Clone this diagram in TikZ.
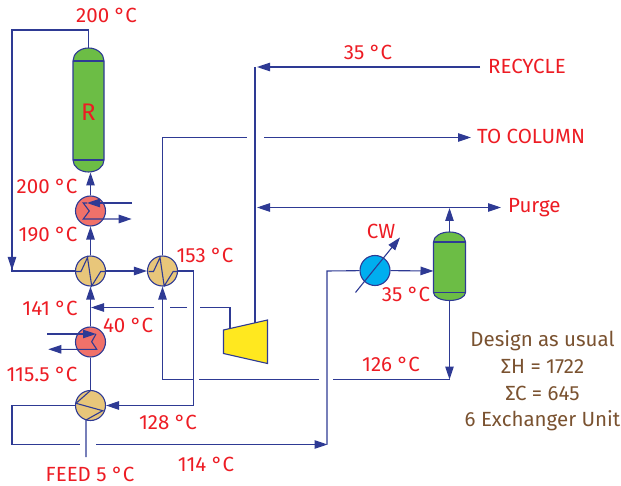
\documentclass[tikz,border=0pt]{standalone}
\usepackage{fontspec}
\setmainfont{Fira Sans}
\usepackage{xcolor}
\usetikzlibrary{arrows.meta,positioning,calc}

\definecolor{linecol}{HTML}{2E3A94}
\definecolor{tempcol}{HTML}{ED1C24}
\definecolor{notecol}{HTML}{7A5230}
\definecolor{vesselfill}{HTML}{6CBD45}
\definecolor{hotfill}{HTML}{F0716A}
\definecolor{xfill}{HTML}{E8C67A}
\definecolor{cwfill}{HTML}{00AEEF}
\definecolor{compfill}{HTML}{FFE81F}

\begin{document}
\begin{tikzpicture}[
  x=1pt, y=-1pt,
  flow/.style={draw=linecol, line width=1.1pt},
  arr/.style={flow, -{Triangle[length=13pt, width=8.5pt, fill=linecol]}},
  exch/.style={circle, draw=linecol, line width=1.1pt, minimum size=30pt, inner sep=0pt, fill=#1},
  vessel/.style={draw=linecol, line width=1.1pt, fill=vesselfill},
  lbl/.style={font=\fontsize{20.5}{22}\selectfont, text=tempcol, inner sep=0pt},
  note/.style={font=\fontsize{20.5}{26.7}\selectfont, text=notecol, align=center, inner sep=0pt}
]
\useasboundingbox (0,0) rectangle (621,486);

% exchangers
\node[exch=hotfill] (hot1) at (90.5,211) {};
\node[exch=xfill] (ex1) at (90.5,271) {};
\node[exch=xfill] (ex2) at (162.5,271) {};
\node[exch=hotfill] (hot2) at (90.5,342) {};
\node[exch=xfill] (ex3) at (90.5,405.5) {};
\node[exch=cwfill] (cw) at (375,270.5) {};

% vessels
\draw[vessel] (73,61) arc (180:0:15.5 and -13) -- (104,160) arc (0:-180:15.5 and -12) -- cycle;
\node[inner sep=0pt, minimum width=31pt, minimum height=124pt] (reactor) at (88.5,110) {};
\draw[flow] (73,61) -- (104,61) (73,160) -- (104,160);
\draw[vessel] (433.5,242) arc (180:0:16 and -10) -- (465.5,292.5) arc (0:-180:16 and -8) -- cycle;
\node[inner sep=0pt, minimum width=32pt, minimum height=68pt] (sep) at (449.5,266) {};
\draw[flow] (433.5,242) -- (465.5,242) (433.5,292.5) -- (465.5,292.5);

% compressor
\draw[flow, fill=compfill] (223.5,330) -- (267.5,320) -- (267.5,363.5) -- (223.5,353.5) -- cycle;
\coordinate (compin) at (255,323);
\coordinate (compout) at (230,328.5);

% free ends
\coordinate (recycle) at (480,67);
\coordinate (recyclein) at (255,67);
\coordinate (tocol) at (471,137.5);
\coordinate (purge) at (501,207.5);
\coordinate (feed) at (86,457);

% connectors
\draw[flow] (reactor.north) -- (88.5,30) -- (12,30) -- (12,271) -- (ex1);
\draw[arr] (12,240) -- (12,270);
\draw[arr] (ex1) -- (ex2);
\draw[arr] (ex1) -- (hot1);
\draw[arr] (hot1) -- (90.5,172.5);
\draw[arr] (recycle) -- (257,67);
\draw[flow] (recyclein) -- (compin);
\draw[arr] (449.5,207.5) -- (purge);
\draw[arr] (449.5,232) -- (449.5,208);
\draw[arr] (449.5,207.5) -- (257,207.5);
\draw[flow] (ex2) -- (162.5,137.5) -- (246.5,137.5);
\draw[arr] (264,137.5) -- (tocol);
\draw[arr] (sep.south) -- (449.5,379.5);
\draw[flow] (449.5,379.5) -- (333,379.5);
\draw[flow] (319,379.5) -- (199,379.5);
\draw[arr] (193,379.5) -- (162.5,379.5) -- (ex2);
\draw[flow] (ex2.east) -- (193.5,271) -- (193.5,405.5);
\draw[arr] (193.5,405.5) -- (ex3);
\draw[arr] (hot2) -- (ex1);
\draw[flow] (ex3) -- (hot2);
\draw[flow] (compout) -- (230,307.5) -- (200,307.5);
\draw[flow] (187,307.5) -- (170,307.5);
\draw[arr] (154,307.5) -- (91,307.5);
\draw[flow] (ex3.west) -- (12,405.5) -- (12,444.5) -- (80,444.5);
\draw[arr] (96,444.5) -- (327.5,444.5);
\draw[flow] (327,444.5) -- (327,271) -- (cw);
\draw[arr] (cw) -- (433.5,271);
\draw[arr] (355.5,292.5) -- (400,237.5);

% coils
\foreach \dx in {0,72.5}
  \draw[flow] (76+\dx,271.5) -- (81+\dx,271.5) -- (87.5+\dx,257.5) -- (91.7+\dx,286) -- (100.7+\dx,271.5) -- (105.5+\dx,271.5);
\draw[flow] (90.5,390.5) -- (76,403.3) -- (102.7,410.7) -- (86,420) -- (feed);
\coordinate (hot1in) at (132,203);
\coordinate (hot1out) at (131.7,219);
\coordinate (hot2in) at (47.3,334);
\coordinate (hot2out) at (48.3,349.3);
\draw[arr] (hot1in) -- (87,203);
\draw[arr] (87,203) -- (83.3,203) -- (89.3,211) -- (83.3,219) -- (hot1out);
\draw[arr] (hot2in) -- (96,334);
\draw[arr] (96,334) -- (91.7,341.7) -- (96.7,349.3) -- (hot2out);

\node[lbl, font=\fontsize{24}{26}\selectfont] (rlbl) at (88.5,112) {R};
\node[lbl] (t1) at (106.5,15) {200 °C};
\node[lbl] (t2) at (47,186) {200 °C};
\node[lbl] (t3) at (48,235) {190 °C};
\node[lbl] (t4) at (205,255) {153 °C};
\node[lbl] (t5) at (50,308) {141 °C};
\node[lbl] (t6) at (128,325) {40 °C};
\node[lbl] (t7) at (42,374) {115.5 °C};
\node[lbl] (t8) at (168,422) {128 °C};
\node[lbl] (t9) at (206,464) {114 °C};
\node[lbl] (t10) at (90,474) {FEED 5 °C};
\node[lbl] (t11) at (368,52) {35 °C};
\node[lbl, anchor=west] (t12) at (488,66) {RECYCLE};
\node[lbl, anchor=west] (t13) at (477,136) {TO COLUMN};
\node[lbl, anchor=west] (t14) at (508,208) {Purge};
\node[lbl] (t15) at (381,231) {CW};
\node[lbl] (t16) at (406,294) {35 °C};
\node[lbl] (t17) at (391,364) {126 °C};
\node[note] (design) at (542.5,381) {Design as usual\\ΣH = 1722\\ΣC = 645\\6 Exchanger Unit};
\end{tikzpicture}
\end{document}
